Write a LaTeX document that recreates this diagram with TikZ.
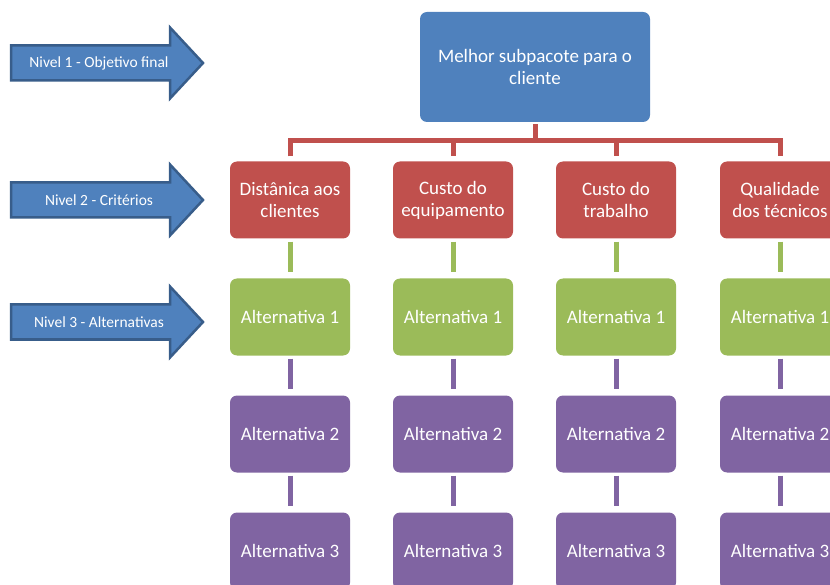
\documentclass[tikz,border=0pt]{standalone}
\usepackage{fontspec}
\setmainfont{Carlito}
\definecolor{cblue}{HTML}{4F81BD}
\definecolor{cbluedark}{HTML}{385D8A}
\definecolor{cred}{HTML}{C0504D}
\definecolor{cgreen}{HTML}{9BBB59}
\definecolor{cpurple}{HTML}{8064A2}
\tikzset{
  box/.style={rounded corners=7pt, minimum width=120pt, minimum height=77pt,
    inner sep=1pt, align=center, text=white, font=\fontsize{19}{22}\selectfont},
  topbox/.style={box, fill=cblue, minimum width=230pt, minimum height=110pt},
  critbox/.style={box, fill=cred},
  alt1box/.style={box, fill=cgreen},
  alt2box/.style={box, fill=cpurple},
  redline/.style={draw=cred, line width=5pt},
  greenline/.style={draw=cgreen, line width=5pt, shorten <=3pt, shorten >=6pt},
  purpleline/.style={draw=cpurple, line width=5pt, shorten <=3pt, shorten >=6pt},
  levelarrow/.style={fill=cblue, draw=cbluedark, line width=2.5pt, line join=miter},
  leveltext/.style={text=white, font=\fontsize{15.5}{17}\selectfont, inner sep=0pt}
}
\newcommand{\levelarrowdraw}[3]{%
  \draw[levelarrow] (11,#2-17.5) -- (170,#2-17.5) -- (170,#2-35.5) -- (203,#2)
    -- (170,#2+35.5) -- (170,#2+17.5) -- (11,#2+17.5) -- cycle;
  \node[leveltext] (#1) at (99,#2) {#3};
}
\begin{document}
\begin{tikzpicture}[x=1pt, y=-1pt]
\useasboundingbox (0,0) rectangle (830,585);
\clip (0,0) rectangle (830,585);

\levelarrowdraw{n1}{63}{Nivel 1 - Objetivo final}
\levelarrowdraw{n2}{200}{Nivel 2 - Critérios}
\levelarrowdraw{n3}{322}{Nivel 3 - Alternativas}

\node[topbox] (top) at (535,67) {Melhor subpacote para o\\cliente};

\node[critbox] (c1) at (290,200) {Distânica aos\\clientes};
\node[critbox] (c2) at (453,200) {Custo do\\equipamento};
\node[critbox] (c3) at (616,200) {Custo do\\trabalho};
\node[critbox] (c4) at (780,200) {Qualidade\\dos técnicos};

\foreach \i/\x in {1/290, 2/453, 3/616, 4/780} {
  \node[alt1box] (a\i) at (\x,317) {Alternativa 1};
  \node[alt2box] (b\i) at (\x,434) {Alternativa 2};
  \node[alt2box] (d\i) at (\x,551) {Alternativa 3};
}

\coordinate (bar) at (535,141);
\draw[redline, shorten <=2pt] (top.south) -- (top.south |- bar);
\draw[redline, shorten <=5pt, shorten >=5pt] (c1.north) |- (bar) -| (c4.north);
\draw[redline, shorten >=5pt] (c2.north |- bar) -- (c2.north);
\draw[redline, shorten >=5pt] (c3.north |- bar) -- (c3.north);

\foreach \i in {1,2,3,4} {
  \draw[greenline] (c\i.south) -- (a\i.north);
  \draw[purpleline] (a\i.south) -- (b\i.north);
  \draw[purpleline] (b\i.south) -- (d\i.north);
}
\end{tikzpicture}
\end{document}
